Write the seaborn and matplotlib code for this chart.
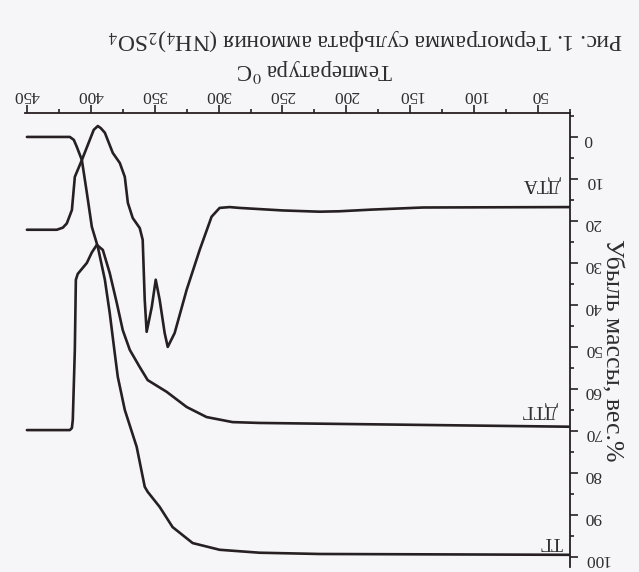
import numpy as np
import pandas as pd
import seaborn as sns
import matplotlib
matplotlib.use("Agg")
import matplotlib.pyplot as plt
from matplotlib.ticker import MultipleLocator

# Thermogram of ammonium sulfate (scan is printed upside down, so the chart is drawn rotated 180 deg)
# temperature, deg C
dta_t = [25, 140, 180, 205.5, 221, 250, 283.6, 291.4, 299.2, 305.5, 314.8, 325, 334.4, 339.8,
         342.2, 346.1, 349.2, 352.3, 356.3, 357.8, 359.4, 361.7, 367.2, 371, 373.4, 377.3,
         382.8, 389, 392.2, 394.5, 397.7, 400.8, 407, 412.5, 414.8, 418.8, 421.9, 426.6, 450]
dta_v = [16.7, 16.8, 17.3, 17.7, 17.8, 17.5, 16.9, 16.7, 16.9, 19.0, 26.9, 36.4, 46.7, 50.0,
         46.7, 38.8, 34.0, 40.5, 46.4, 38.8, 24.5, 21.7, 19.3, 15.7, 9.5, 6.2,
         3.8, -1.0, -2.1, -2.6, -1.7, 0.7, 5.5, 9.5, 17.4, 20.6, 21.6, 22.1, 22.1]

dtg_t = [25, 268, 289.1, 309.4, 325, 340.6, 355.5, 361.7, 369.5, 375, 379.7, 385.2, 390.6,
         395.3, 399.2, 403.1, 410.2, 411.7, 412.5, 414.1, 414.8, 416.4, 450]
dtg_v = [69.0, 68.1, 67.9, 66.7, 64.3, 60.7, 57.9, 54.8, 50.7, 46.0, 39.5, 32.4, 26.9,
         25.7, 27.5, 30.0, 32.6, 34.0, 50.7, 67.4, 69.3, 69.8, 69.8]

tg_t = [25, 221, 268, 299.2, 320.3, 336, 346.1, 355.5, 357.8, 364.1, 373.4, 378.9, 381.3,
        385.2, 389, 394.5, 399.2, 403.1, 407, 410.9, 413.3, 416.4, 450]
tg_v = [99.5, 99.3, 99.0, 98.3, 96.7, 92.9, 88.1, 84.5, 83.3, 73.8, 65.0, 57.1, 51.4,
        41.9, 34.0, 26.2, 21.4, 13.3, 5.5, 2.4, 0.7, 0.0, 0.0]

curve_names = ["ДТА", "ДТГ", "ТГ"]

bg = "#f6f6f8"
ink = "#262022"

sns.set_style("ticks")
plt.rcParams['font.family'] = ['Liberation Serif', 'DejaVu Serif']
plt.rcParams['mathtext.fontset'] = 'stix'

fig = plt.figure(figsize=(6.39, 5.72), dpi=100, facecolor=bg)
ax = fig.add_axes([25 / 639, 5 / 572, 545 / 639, 454 / 572])
ax.set_facecolor(bg)

for t, v in [(dta_t, dta_v), (dtg_t, dtg_v), (tg_t, tg_v)]:
    df = pd.DataFrame({"t": t, "v": v})
    sns.lineplot(data=df, x="t", y="v", ax=ax, color=ink, lw=1.9,
                 sort=False, estimator=None)

# upside-down orientation
ax.set_xlim(451.5, 25)
ax.set_ylim(102.4, -5.7)
ax.xaxis.tick_top()
ax.yaxis.tick_right()
for s in ["left", "bottom"]:
    ax.spines[s].set_visible(False)
for s in ["top", "right"]:
    ax.spines[s].set_linewidth(1.3)
    ax.spines[s].set_color(ink)

ax.xaxis.set_major_locator(MultipleLocator(50))
ax.xaxis.set_minor_locator(MultipleLocator(25))
ax.yaxis.set_major_locator(MultipleLocator(10))
ax.yaxis.set_minor_locator(MultipleLocator(5))
ax.tick_params(axis="both", which="both", direction="out", color=ink, width=1.2,
               labelcolor="#2e2e2e", labelsize=12.5, labelrotation=180)
ax.tick_params(axis="both", which="major", length=6)
ax.tick_params(axis="both", which="minor", length=3)
ax.tick_params(axis="x", pad=1)
ax.tick_params(axis="y", pad=4)

ax.set_xlabel("Температура $^{0}$C", fontsize=16.5, rotation=180, color="#2e2e2e")
ax.xaxis.set_label_position("top")
ax.xaxis.set_label_coords(0.532, 1.094)
ax.xaxis.label.set_va("center")

ax.set_ylabel("Убыль массы, вес.%", fontsize=18.5, rotation=270, color="#2e2e2e")
ax.yaxis.set_label_position("right")
ax.yaxis.set_label_coords(1.076, 0.478)
ax.yaxis.label.set_va("center")

# curve labels
for name, (tx, ty) in zip(curve_names, [(47, 11), (49, 65), (40, 96.4)]):
    ax.text(tx, ty, name, fontsize=14, rotation=180, ha="center", va="center",
            color="#2e2e2e")

fig.text(366 / 639, 1 - 40 / 572,
         "Рис. 1. Термограмма сульфата аммония (NH$_4$)$_2$SO$_4$",
         fontsize=17, rotation=180, ha="center", va="center", color="#2e2e2e")

fig.savefig("out.png", dpi=100, facecolor=bg)
